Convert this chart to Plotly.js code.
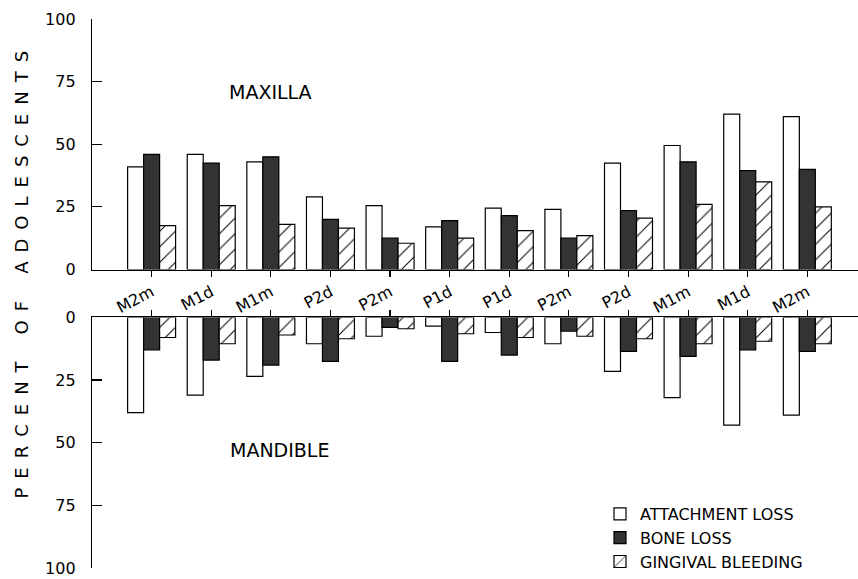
<!DOCTYPE html>
<html>
<head>
<meta charset="utf-8">
<script src="https://cdn.plot.ly/plotly-3.0.1.min.js"></script>
<style>html,body{margin:0;padding:0;background:#fff;}#chart{width:858px;height:579px;}</style>
</head>
<body>
<div id="chart"></div>
<script>
// Tooth sites (left to right)
const categories = ["M2m", "M1d", "M1m", "P2d", "P2m", "P1d", "P1d", "P2m", "P2d", "M1m", "M1d", "M2m"];
const seriesNames = ["ATTACHMENT LOSS", "BONE LOSS", "GINGIVAL BLEEDING"];

// Maxilla (% of adolescents)
const maxAttachment = [41, 46, 43, 29, 25.5, 17, 24.5, 24, 42.5, 49.5, 62, 61];
const maxBone       = [46, 42.5, 45, 20, 12.5, 19.5, 21.5, 12.5, 23.5, 43, 39.5, 40];
const maxBleeding   = [17.5, 25.5, 18, 16.5, 10.5, 12.5, 15.5, 13.5, 20.5, 26, 35, 25];

// Mandible (% of adolescents)
const manAttachment = [38, 31, 23.5, 10.5, 7.5, 3.5, 6, 10.5, 21.5, 32, 43, 39];
const manBone       = [13, 17, 19, 17.5, 4, 17.5, 15, 5.5, 13.5, 15.5, 13, 13.5];
const manBleeding   = [8, 10.5, 7, 8.5, 4.5, 6.5, 8, 7.5, 8.5, 10.5, 9.5, 10.5];

const xIdx = categories.map((_, i) => i);

const styles = [
  {color: "#ffffff", pattern: {shape: ""}},
  {color: "#333333", pattern: {shape: ""}},
  {color: "#ffffff", pattern: {shape: "/", fgcolor: "#000", bgcolor: "#fff", size: 11, solidity: 0.09}}
];
const line = {color: "#000", width: 1.2};

function bar(vals, i, xa, ya, show) {
  return {
    type: "bar", x: xIdx, y: vals, name: seriesNames[i],
    xaxis: xa, yaxis: ya, legendgroup: "g" + i, showlegend: show,
    marker: {color: styles[i].color, pattern: styles[i].pattern, line: line},
    hoverinfo: "skip"
  };
}

const data = [
  bar(maxAttachment, 0, "x", "y", true),
  bar(maxBone, 1, "x", "y", true),
  bar(maxBleeding, 2, "x", "y", true),
  bar(manAttachment, 0, "x2", "y2", false),
  bar(manBone, 1, "x2", "y2", false),
  bar(manBleeding, 2, "x2", "y2", false)
];

const W = 858, H = 579;
const fontFam = "DejaVu Sans, Arial, sans-serif";
const yCommon = {
  tickvals: [0, 25, 50, 75, 100], ticks: "inside", ticklen: 10, tickwidth: 1.2, tickcolor: "#000",
  showline: true, linecolor: "#000", linewidth: 1.2, showgrid: false, zeroline: false,
  tickfont: {family: fontFam, size: 16, color: "#000"}, ticklabelstandoff: 12, fixedrange: true
};
const xCommon = {
  range: [-1, 11.85], tickvals: xIdx, ticks: "outside", ticklen: 6, tickwidth: 1.2, tickcolor: "#000",
  showline: true, linecolor: "#000", linewidth: 1.2, showgrid: false, zeroline: false,
  domain: [92 / W, 1], fixedrange: true
};

const layout = {
  width: W, height: H,
  margin: {l: 0, r: 0, t: 0, b: 0},
  paper_bgcolor: "#fff", plot_bgcolor: "rgba(0,0,0,0)",
  barmode: "group", bargap: 0.195, bargroupgap: 0,
  font: {family: fontFam, color: "#000"},
  xaxis: Object.assign({}, xCommon, {
    anchor: "y", side: "bottom", ticktext: categories, showticklabels: true, tickangle: -28,
    tickfont: {family: fontFam, size: 16, color: "#000"}
  }),
  xaxis2: Object.assign({}, xCommon, {anchor: "y2", side: "top", showticklabels: false}),
  yaxis: Object.assign({}, yCommon, {anchor: "x", range: [0, 100], domain: [1 - 270 / H, 1 - 19 / H]}),
  yaxis2: Object.assign({}, yCommon, {anchor: "x2", range: [100, 0], domain: [1 - 569 / H, 1 - 318 / H]}),
  showlegend: true,
  legend: {
    x: 600 / W, y: 1 - 498 / H, xanchor: "left", yanchor: "top",
    font: {family: fontFam, size: 16, color: "#000"}, traceorder: "normal",
    bgcolor: "rgba(0,0,0,0)", itemclick: false, itemdoubleclick: false
  },
  annotations: [
    {text: "MAXILLA", xref: "paper", yref: "paper", x: 270 / W, y: 1 - 92 / H, showarrow: false,
     xanchor: "center", yanchor: "middle", font: {family: fontFam, size: 19, color: "#000"}},
    {text: "MANDIBLE", xref: "paper", yref: "paper", x: 279 / W, y: 1 - 451 / H, showarrow: false,
     xanchor: "center", yanchor: "middle", font: {family: fontFam, size: 19, color: "#000"}},
    {text: "P\u2002E\u2002R\u2002C\u2002E\u2002N\u2002T\u2002\u2002\u2002O\u2002F\u2002\u2002\u2002A\u2002D\u2002O\u2002L\u2002E\u2002S\u2002C\u2002E\u2002N\u2002T\u2002S",
     xref: "paper", yref: "paper", x: 22 / W, y: 1 - 275 / H, showarrow: false, textangle: -90,
     xanchor: "center", yanchor: "middle", font: {family: fontFam, size: 18, color: "#000"}}
  ]
};

Plotly.newPlot("chart", data, layout, {displayModeBar: false, staticPlot: true});
</script>
</body>
</html>
